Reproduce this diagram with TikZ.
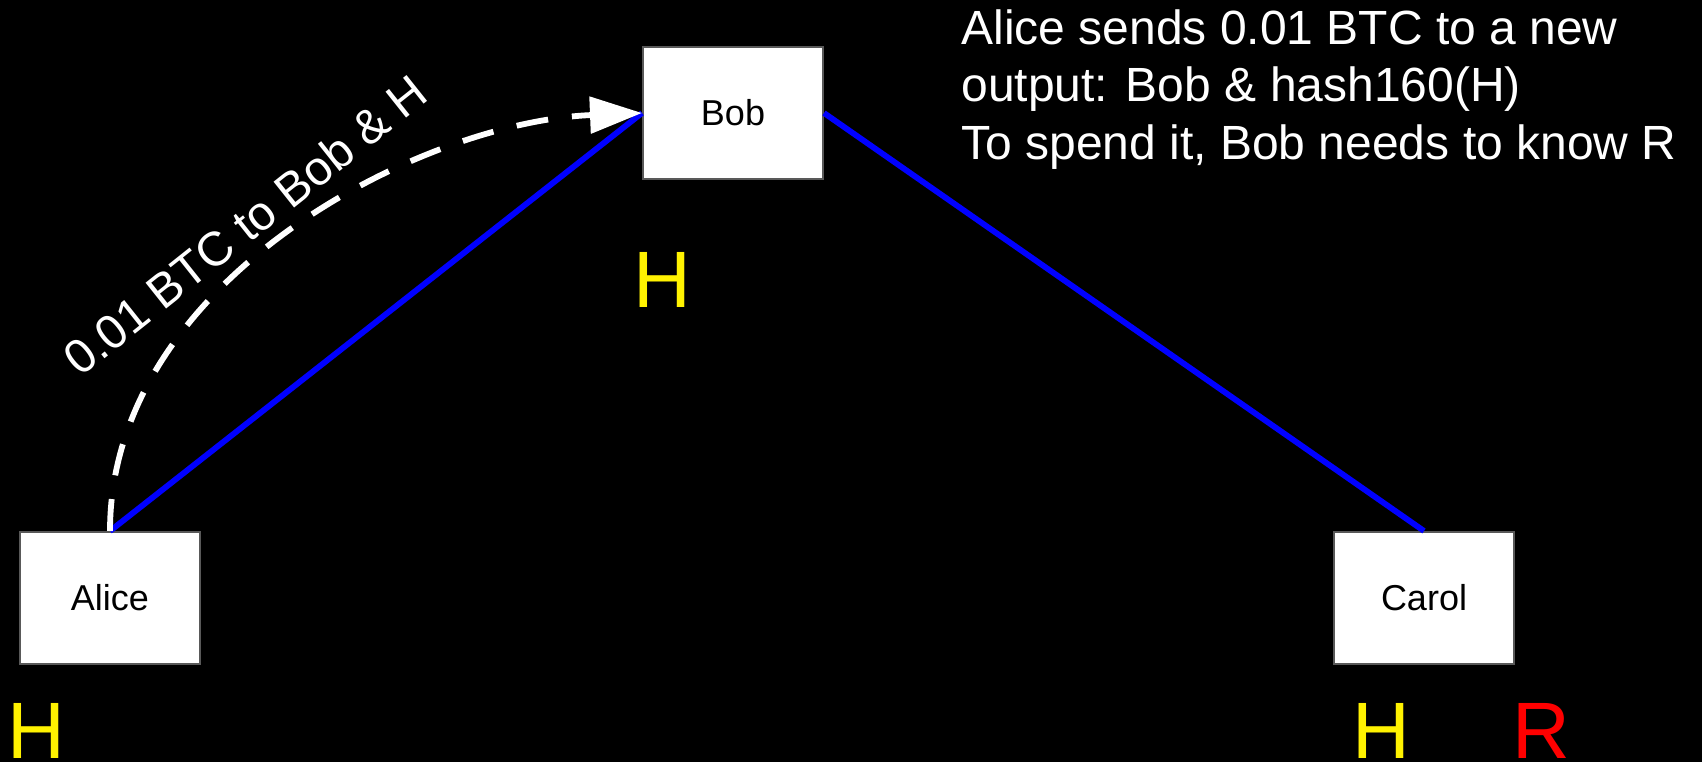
\documentclass[tikz,border=0pt]{standalone}
\usepackage{fontspec}
\setmainfont{Liberation Sans}
\usetikzlibrary{arrows.meta,calc}
\definecolor{boxgray}{HTML}{595959}
\begin{document}
\begin{tikzpicture}[x=0.5pt,y=0.5pt,
  box/.style={draw=boxgray,line width=1pt,fill=white,minimum width=90pt,minimum height=66pt,inner sep=0pt,text=black,font=\fontsize{18}{21}\selectfont},
  link/.style={draw={rgb,255:red,0;green,0;blue,255},line width=2.9pt},
  sendarrow/.style={draw=white,line width=2.9pt,dash pattern=on 16pt off 12pt,-{Triangle[length=26pt,width=18pt]}},
  big/.style={font=\fontsize{40}{44}\selectfont,inner sep=0pt},
  note/.style={text=white,font=\fontsize{24}{28.9}\selectfont,inner sep=0pt}]
\fill[black] (0,0) rectangle (1702,762);
\useasboundingbox (0,0) rectangle (1702,762);
\node[box] (alice) at (110,164) {Alice};
\node[box] (bob) at (733,649) {Bob};
\node[box] (carol) at (1424,164) {Carol};
\draw[link] (alice.north) -- (bob.west);
\draw[link] (bob.east) -- (carol.north);
\draw[sendarrow] (alice.north) .. controls ($(alice.north)+(0,250)$) and ($(bob.west)+(-222,-9)$) .. (bob.west);
\node[note,rotate=38.5] (lbl) at (245,537) {0.01 BTC to Bob \& H};
\node[note,anchor=north west,align=left] (info) at (961,753) {Alice sends 0.01 BTC to a new\\output: Bob \& hash160(H)\\To spend it, Bob needs to know R};
\node[big,text=yellow] (hbob) at (662,482) {H};
\node[big,text=yellow] (halice) at (36,31) {H};
\node[big,text=yellow] (hcarol) at (1381,31) {H};
\node[big,text=red] (rcarol) at (1541,31) {R};
\end{tikzpicture}
\end{document}
